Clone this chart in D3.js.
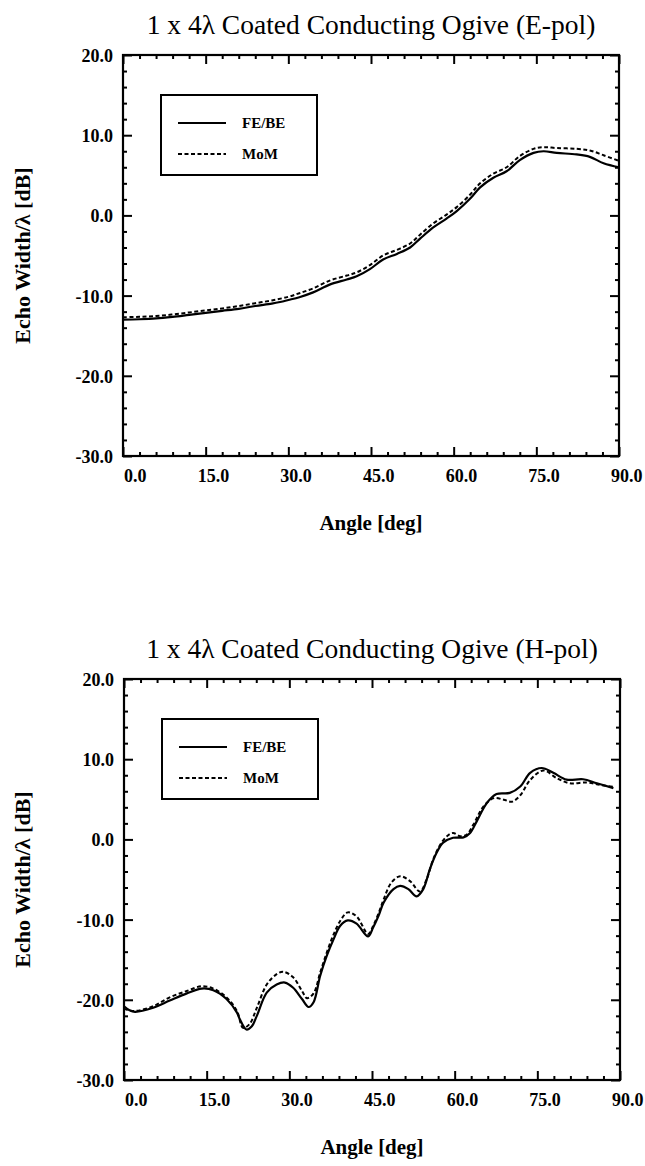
<!DOCTYPE html>
<html>
<head>
<meta charset="utf-8">
<script src="https://cdn.jsdelivr.net/npm/d3@7"></script>
<style>
  html, body { margin: 0; padding: 0; background: #fff; }
  svg { display: block; }
  text { font-family: "Liberation Serif", "Times New Roman", serif; fill: #000; }
</style>
</head>
<body>
<svg id="chart" width="645" height="1166"></svg>
<script>
// ---------------- data ----------------
const chartTitles = ["1 x 4\u03BB Coated Conducting Ogive (E-pol)", "1 x 4\u03BB Coated Conducting Ogive (H-pol)"];
const seriesNames = ["FE/BE", "MoM"];
const xLabel = "Angle [deg]";
const yLabel = "Echo Width/\u03BB [dB]";
const xTickValues = [0, 15, 30, 45, 60, 75, 90];
const yTickValues = [-30, -20, -10, 0, 10, 20];

// E-pol, FE/BE (solid)
const ePolFeAngle = [0, 3, 6, 9, 12, 15, 18, 21, 24, 27, 28.5, 30, 32, 34.5, 37.6, 40.6, 42.4, 44.8, 47.2, 49.7, 52.1, 53.9, 56.3, 58.7, 60.5, 63, 64.8, 67.2, 69.6, 72, 74.5, 76.3, 78.7, 82.3, 84.7, 87.2, 90];
const ePolFeDb    = [-13.0, -12.95, -12.85, -12.65, -12.4, -12.15, -11.9, -11.65, -11.3, -11.0, -10.8, -10.55, -10.2, -9.6, -8.6, -8.0, -7.6, -6.7, -5.5, -4.8, -4.0, -2.9, -1.5, -0.4, 0.5, 2.1, 3.5, 4.7, 5.5, 6.9, 7.8, 8.0, 7.8, 7.6, 7.3, 6.5, 6.0];
// E-pol, MoM (dashed)
const ePolMomAngle = [0, 3, 6, 9, 12, 15, 18, 21, 24, 27, 30, 32, 34.5, 37.6, 40.6, 42.4, 44.8, 47.2, 49.7, 52.1, 53.9, 56.3, 58.7, 60.5, 63, 64.8, 67.2, 69.6, 72, 74.5, 76.3, 78.7, 82.3, 84.7, 87.2, 90];
const ePolMomDb    = [-12.7, -12.65, -12.55, -12.35, -12.1, -11.85, -11.6, -11.3, -10.95, -10.6, -10.15, -9.7, -9.1, -8.1, -7.5, -7.1, -6.2, -5.0, -4.3, -3.5, -2.4, -1.0, 0.1, 1.0, 2.6, 4.0, 5.2, 6.0, 7.4, 8.3, 8.5, 8.4, 8.3, 8.1, 7.5, 6.8];

// H-pol, FE/BE (solid)
const hPolFeAngle = [0, 1, 2, 5.3, 8.3, 11.4, 14.1, 16.2, 18.6, 20.5, 21.0, 22.2, 23.2, 24.1, 25.9, 27.7, 29.2, 30.7, 32.3, 33.5, 34.4, 35.6, 36.8, 38.0, 39.2, 40.6, 42.2, 44.3, 45.2, 46.2, 47.1, 48.9, 50.1, 51.6, 53.1, 54.3, 55.5, 56.7, 57.9, 59.7, 61.6, 62.8, 64.0, 65.8, 67.6, 70.0, 71.9, 73.7, 75.8, 77.9, 80.3, 83.3, 85.8, 88.8];
const hPolFeDb    = [-20.8, -21.3, -21.5, -21.0, -20.1, -19.2, -18.6, -18.8, -19.9, -21.6, -22.4, -23.7, -23.3, -22.0, -19.1, -18.1, -17.85, -18.5, -19.9, -20.9, -20.3, -17.0, -14.5, -12.5, -10.8, -10.1, -10.5, -12.1, -11.0, -9.5, -7.9, -6.2, -5.8, -6.2, -7.1, -6.2, -3.7, -1.7, -0.4, 0.2, 0.25, 0.8, 2.25, 4.5, 5.65, 5.8, 6.6, 8.3, 8.9, 8.3, 7.45, 7.5, 7.0, 6.4];
// H-pol, MoM (dashed)
const hPolMomAngle = [0, 1.7, 5.3, 8.3, 11.4, 14.1, 16.2, 18.6, 20.5, 21.6, 22.8, 24.1, 25.9, 27.7, 28.9, 30.7, 32.3, 33.2, 34.4, 35.6, 36.8, 38.0, 39.2, 40.6, 42.2, 44.3, 45.2, 46.2, 47.1, 48.5, 50.1, 51.9, 53.7, 54.9, 56.1, 57.4, 58.6, 59.7, 61.0, 62.2, 63.4, 65.2, 67.1, 68.9, 70.4, 71.9, 73.7, 76.1, 78.5, 80.9, 84.0, 86.4, 88.8];
const hPolMomDb    = [-21.1, -21.4, -20.8, -19.7, -18.9, -18.3, -18.6, -19.7, -21.4, -23.5, -23.0, -21.0, -18.1, -16.8, -16.5, -17.2, -18.9, -19.8, -19.2, -16.6, -14.1, -11.9, -10.2, -9.1, -9.6, -11.8, -10.8, -9.2, -7.5, -5.4, -4.6, -5.2, -6.5, -5.0, -2.5, -0.65, 0.4, 0.8, 0.4, 0.6, 1.85, 4.1, 5.15, 4.95, 4.7, 5.5, 7.4, 8.6, 7.65, 7.0, 7.1, 6.8, 6.55];

// ---------------- drawing ----------------
const svg = d3.select("#chart");
const W = 496, H = 401;
const dashes = "4,2.5";
const fmt = d => d.toFixed(1); // keeps the plain hyphen minus of the original

function zip(a, b) { return a.map((v, i) => [v, b[i]]); }

function drawChart(left, top, title, feA, feD, momA, momD) {
  const g = svg.append("g").attr("transform", `translate(${left},${top})`);
  const x = d3.scaleLinear().domain([0, 90]).range([0, W]);
  const y = d3.scaleLinear().domain([-30, 20]).range([H, 0]);

  // title
  svg.append("text")
    .attr("x", left + W / 2).attr("y", top - 21)
    .attr("text-anchor", "middle")
    .style("font-size", "27.5px")
    .text(title);

  const minorX = d3.range(0, 90.01, 3).filter(v => v % 15 !== 0);
  const minorY = d3.range(-30, 20.01, 2).filter(v => v % 10 !== 0);

  // bottom axis (labels)
  const xb = g.append("g").attr("transform", `translate(0,${H})`)
    .call(d3.axisBottom(x).tickValues(xTickValues).tickSize(-9).tickPadding(13).tickFormat(fmt));
  xb.selectAll("text").attr("text-anchor", "end").attr("x", 23)
    .style("font-size", "18px").style("font-weight", "bold");
  g.append("g").attr("transform", `translate(0,${H})`)
    .call(d3.axisBottom(x).tickValues(minorX).tickSize(-4).tickFormat(""));
  // top axis (mirror)
  g.append("g").call(d3.axisTop(x).tickValues(xTickValues).tickSize(-9).tickFormat(""));
  g.append("g").call(d3.axisTop(x).tickValues(minorX).tickSize(-4).tickFormat(""));
  // left axis (labels)
  const yl = g.append("g")
    .call(d3.axisLeft(y).tickValues(yTickValues).tickSize(-9).tickPadding(10).tickFormat(fmt));
  yl.selectAll("text").style("font-size", "18px").style("font-weight", "bold")
    .attr("dy", "0.36em");
  g.append("g").call(d3.axisLeft(y).tickValues(minorY).tickSize(-4).tickFormat(""));
  // right axis (mirror)
  g.append("g").attr("transform", `translate(${W},0)`)
    .call(d3.axisRight(y).tickValues(yTickValues).tickSize(-9).tickFormat(""));
  g.append("g").attr("transform", `translate(${W},0)`)
    .call(d3.axisRight(y).tickValues(minorY).tickSize(-4).tickFormat(""));

  g.selectAll(".domain").remove();
  g.selectAll(".tick line").attr("stroke", "#000").attr("stroke-width", 2);

  // frame
  g.append("rect").attr("x", 0).attr("y", 0).attr("width", W).attr("height", H)
    .attr("fill", "none").attr("stroke", "#000").attr("stroke-width", 2.2);

  // series
  const line = d3.line().x(d => x(d[0])).y(d => y(d[1])).curve(d3.curveCatmullRom.alpha(0.5));
  g.append("path").datum(zip(momA, momD)).attr("d", line)
    .attr("fill", "none").attr("stroke", "#000").attr("stroke-width", 2).attr("stroke-dasharray", dashes);
  g.append("path").datum(zip(feA, feD)).attr("d", line)
    .attr("fill", "none").attr("stroke", "#000").attr("stroke-width", 2.2);

  // legend
  const lg = g.append("g").attr("transform", "translate(38,40)");
  lg.append("rect").attr("width", 156).attr("height", 80)
    .attr("fill", "#fff").attr("stroke", "#000").attr("stroke-width", 2);
  seriesNames.forEach((name, i) => {
    const yy = 28 + i * 31;
    lg.append("line").attr("x1", 17).attr("x2", 65).attr("y1", yy).attr("y2", yy)
      .attr("stroke", "#000").attr("stroke-width", 2)
      .attr("stroke-dasharray", i === 1 ? dashes : null);
    lg.append("text").attr("x", 81).attr("y", yy + 5)
      .style("font-size", "15px").style("font-weight", "bold").text(name);
  });

  // axis labels
  svg.append("text")
    .attr("x", left + W / 2).attr("y", top + H + 74)
    .attr("text-anchor", "middle")
    .style("font-size", "21px").style("font-weight", "bold")
    .text(xLabel);
  svg.append("text")
    .attr("transform", `translate(30,${top + H / 2}) rotate(-90)`)
    .attr("text-anchor", "middle")
    .style("font-size", "22px").style("font-weight", "bold")
    .text(yLabel);
}

drawChart(123, 55, chartTitles[0], ePolFeAngle, ePolFeDb, ePolMomAngle, ePolMomDb);
drawChart(124, 679, chartTitles[1], hPolFeAngle, hPolFeDb, hPolMomAngle, hPolMomDb);
</script>
</body>
</html>
